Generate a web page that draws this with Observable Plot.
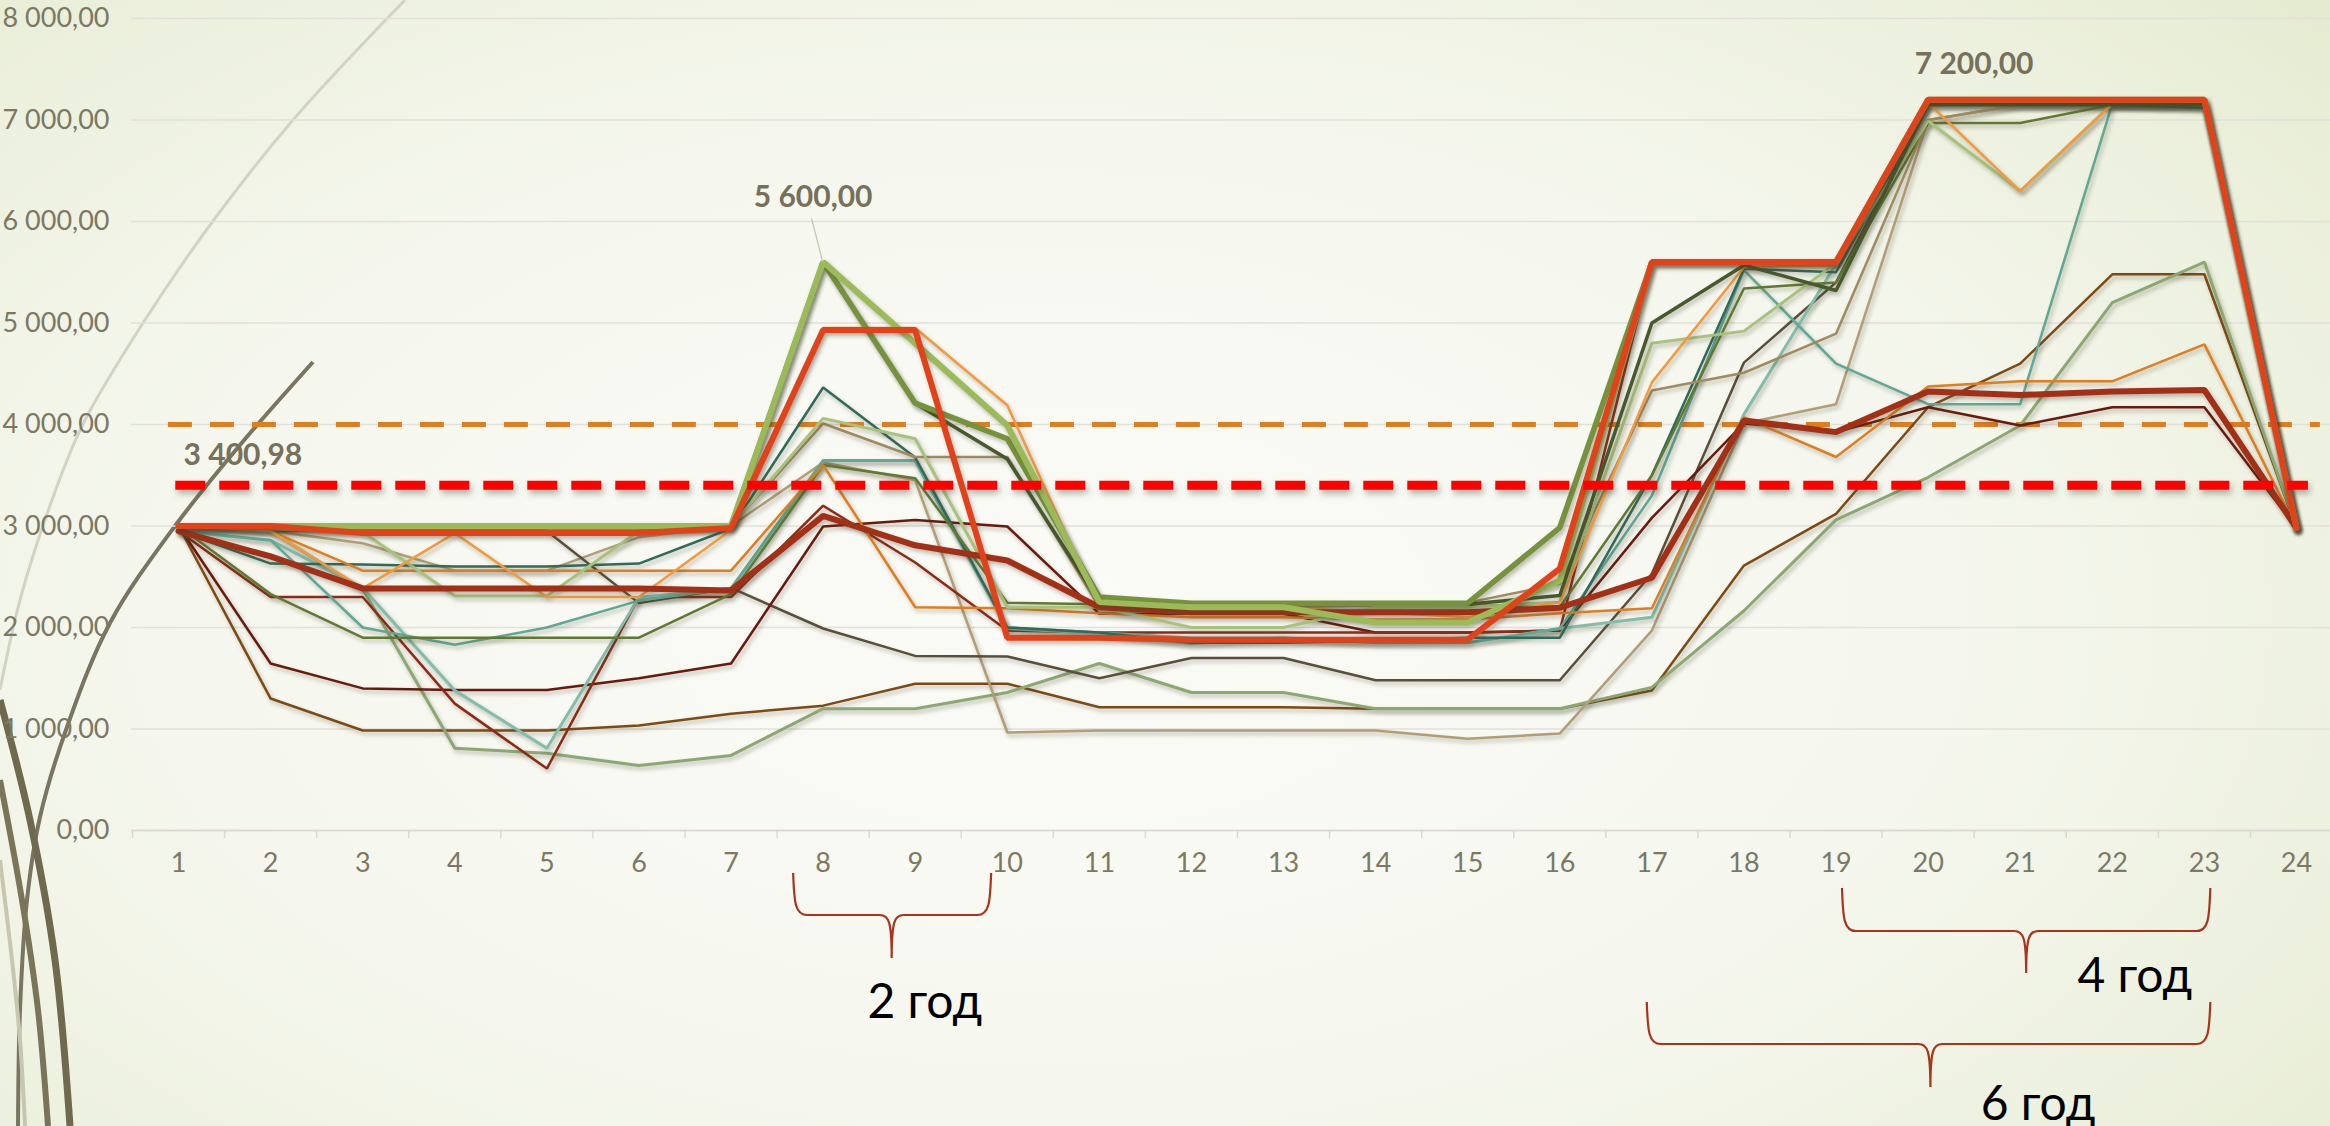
<!DOCTYPE html>
<html><head><meta charset="utf-8">
<script src="https://cdn.jsdelivr.net/npm/d3@7"></script>
<script src="https://cdn.jsdelivr.net/npm/@observablehq/plot@0.6"></script>
<style>
html,body{margin:0;padding:0;}
body{width:2330px;height:1126px;overflow:hidden;position:relative;
 background: radial-gradient(ellipse 78% 90% at 45% 55%, #fbfbf7 0%, #f5f7ee 50%, #e9eed8 85%, #e1e8c8 100%);
 font-family: Lato, sans-serif;}
#decor{position:absolute;left:0;top:0;}
#chart{position:absolute;left:0;top:0;}
.series path{filter: drop-shadow(2px 3px 2px rgba(70,70,50,0.35));}
.redref line, .redref path{filter: drop-shadow(2px 4px 3px rgba(70,70,50,0.4));}
</style></head><body>
<svg id="decor" width="2330" height="1126"></svg>
<div id="chart"></div>
<script>
// ---------- DATA ----------
const categories = [1,2,3,4,5,6,7,8,9,10,11,12,13,14,15,16,17,18,19,20,21,22,23,24];
const yTicks = [0,1000,2000,3000,4000,5000,6000,7000,8000];

const brown      = [3000,1300,985,985,985,1035,1150,1230,1445,1445,1215,1215,1215,1200,1200,1200,1380,2610,3120,4170,4600,5480,5480,2980];
const sage       = [3000,2950,2380,810,760,640,740,1200,1200,1360,1645,1360,1360,1200,1200,1200,1410,2165,3060,3480,3990,5200,5600,2980];
const tan        = [3000,2950,2830,2560,2560,2890,3000,3625,3450,965,985,985,985,985,905,955,1970,4010,4200,7000,7150,7150,7150,2980];
const brownGrey  = [3000,2950,2950,2950,2950,2240,2390,1990,1720,1715,1500,1700,1700,1480,1480,1480,2530,4610,5400,7150,7150,7150,7150,2980];
const redBrown   = [3000,1645,1400,1385,1385,1500,1645,2995,3060,2995,2135,2135,2135,1950,1950,1970,3080,4010,3925,4170,3990,4170,4170,2980];
const darkRed    = [2950,2300,2300,1250,610,2300,2300,3200,2640,1970,1950,1950,1950,1950,1950,1970,5600,5600,5600,7200,7200,7200,7200,2980];
const lightTeal  = [2950,2860,2390,1380,810,2296,2385,3645,3645,1990,1940,1840,1900,1850,1850,1990,2100,4100,5580,7150,7150,7150,7120,2980];
const teal       = [2950,2860,2000,1830,2000,2265,2385,3645,3645,2000,1950,1900,1900,1850,1850,1990,3300,5520,4600,4200,4200,7160,7150,2980];
const darkTeal   = [2950,2630,2620,2600,2600,2630,2975,4365,3675,2000,1950,1850,1850,1870,1900,1900,3500,5535,5500,7150,7150,7150,7120,2980];
const oliveDark  = [3000,2330,1900,1900,1900,1900,2330,3600,3470,2245,2230,2220,2220,2220,2220,2200,3500,5340,5400,6970,6970,7150,7150,2980];
const tanDark    = [3000,3000,3000,3000,3000,3000,3000,4010,3680,3680,2200,2200,2200,2220,2245,2430,4335,4510,4895,7000,7150,7150,7150,2980];
const orange     = [3000,2950,2560,2560,2560,2560,2560,3600,2200,2190,2140,2100,2100,2080,2080,2140,2190,4070,3680,4375,4425,4425,4790,2980];
const paleGreen  = [3000,2970,2940,2310,2310,2950,3000,4060,3860,2200,2200,2000,2000,2200,2200,2250,4800,4920,5590,6990,6300,7160,7150,2980];
const lightOrange= [3000,2950,2385,2930,2300,2300,2960,4950,4950,4190,2200,2200,2200,2150,2100,2250,4415,5550,5570,7170,6300,7160,7150,2980];
const redThick   = [2950,2700,2385,2385,2385,2385,2365,3100,2810,2660,2200,2150,2150,2150,2150,2195,2490,4040,3925,4325,4290,4325,4340,2980];
const darkGreen  = [3000,3000,3000,3000,3000,3000,3000,5600,4210,3660,2250,2230,2230,2230,2230,2315,5000,5570,5320,7150,7150,7150,7150,2980];
const olive      = [3000,3000,3000,3000,3000,3000,3000,5600,4210,3860,2300,2240,2240,2240,2240,2985,5600,5600,5600,7200,7200,7200,7200,2980];
const lightGreen = [3000,3000,3000,3000,3000,3000,3000,5600,4800,3990,2250,2200,2200,2050,2050,2460,5600,5600,5600,7200,7200,7200,7200,2980];
const redOrange  = [3000,3000,2930,2930,2930,2930,2980,4930,4930,1900,1900,1880,1880,1880,1880,2580,5600,5600,5600,7200,7200,7200,7200,2980];

const averageValue = 3400.98;
const limitValue = 4000;
const peakCategories = [8, 20];

const brackets = [
  {label: "2 год", from: 8, to: 10},
  {label: "4 год", from: 19, to: 23},
  {label: "6 год", from: 17, to: 23}
];

// ---------- STYLE ----------
const seriesList = [
  {v: brown, c: "#7f4a10", w: 2.5},
  {v: sage, c: "#8aa870", w: 3},
  {v: tan, c: "#b39d74", w: 2.5},
  {v: brownGrey, c: "#5b4e36", w: 2.5},
  {v: redBrown, c: "#6a1a0c", w: 2.5},
  {v: darkRed, c: "#8e2a14", w: 2.5},
  {v: lightTeal, c: "#82bcab", w: 3},
  {v: teal, c: "#5fa896", w: 2.5},
  {v: darkTeal, c: "#2f6b5a", w: 2.5},
  {v: oliveDark, c: "#5f7a30", w: 2.5},
  {v: tanDark, c: "#a08a5e", w: 2.5},
  {v: orange, c: "#e27d1c", w: 2.5},
  {v: paleGreen, c: "#a9c27a", w: 3},
  {v: lightOrange, c: "#f39a3c", w: 2.5},
  {v: redThick, c: "#a33016", w: 6},
  {v: darkGreen, c: "#46592a", w: 3.5},
  {v: olive, c: "#76923c", w: 5.5},
  {v: lightGreen, c: "#9bbb59", w: 6},
  {v: redOrange, c: "#e2421a", w: 6}
];
// bracket layout (pixel offsets below the axis; start/end/tip/label shifts in category units)
const bracketLayout = [
  {dl: -0.32, dr: -0.17, tip: 0.75, lab: 1.11, top: 43, mid: 85, bot: 128, base: 188},
  {dl: 0.07, dr: 0.07, tip: 2.07, lab: 3.25, top: 58, mid: 101, bot: 143, base: 162},
  {dl: -0.05, dr: 0.07, tip: 3.03, lab: 4.2, top: 172, mid: 214, bot: 257, base: 290}
];

// decorative theme arcs (background, not data)
const decor = d3.select("#decor");
const arc = d3.line().curve(d3.curveCatmullRom);
decor.append("path").attr("d", arc([[405,0],[293,120],[213,221],[143,323],[83,424],[52,500],[20,600],[0,690]]))
  .attr("fill", "none").attr("stroke", "#d3d3c3").attr("stroke-width", 3);
decor.append("path").attr("d", arc([[313,362],[240,445],[175,526],[110,623],[67,727],[40,817],[27,900],[20,1010],[18,1126]]))
  .attr("fill", "none").attr("stroke", "#7a7560").attr("stroke-width", 4);
decor.append("path").attr("d", arc([[0,700],[30,820],[55,960],[70,1126]])).attr("fill", "none").attr("stroke", "#6f6a4e").attr("stroke-width", 7);
decor.append("path").attr("d", arc([[0,780],[22,900],[38,1010],[48,1126]])).attr("fill", "none").attr("stroke", "#7a7558").attr("stroke-width", 6);
decor.append("path").attr("d", arc([[0,860],[12,960],[20,1040],[25,1126]])).attr("fill", "none").attr("stroke", "#c9c6b0").attr("stroke-width", 4);

const fmt = d3.formatLocale({decimal: ",", thousands: " ", grouping: [3]}).format(",.2f");
const boundaries = categories.map(c => c - 0.5).concat([categories[categories.length - 1] + 0.5]);
const first = categories[0], last = categories[categories.length - 1];

const lineMarks = seriesList.map(s =>
  Plot.line(categories.map((c, i) => ({cat: c, value: s.v[i]})),
    {x: "cat", y: "value", stroke: s.c, strokeWidth: s.w, strokeLinejoin: "miter", className: "series"}));

const peaks = peakCategories.map(c => ({cat: c, value: d3.max(seriesList, s => s.v[c - 1])}));

function bracketsMark(index, scales, values, dims) {
  const g = d3.create("svg:g");
  const y0 = scales.y(0);
  brackets.forEach((b, i) => {
    const L = bracketLayout[i];
    const xl = scales.x(b.from + L.dl), xr = scales.x(b.to + L.dr), xm = scales.x(b.from + L.tip);
    const yt = y0 + L.top, ym = y0 + L.mid, yb = y0 + L.bot;
    const p = `M${xl},${yt} C${xl+1},${ym-12} ${xl+2},${ym} ${xl+14},${ym} L${xm-12},${ym} C${xm-3},${ym} ${xm},${ym+6} ${xm},${yb}` +
              ` M${xr},${yt} C${xr-1},${ym-12} ${xr-2},${ym} ${xr-14},${ym} L${xm+12},${ym} C${xm+3},${ym} ${xm},${ym+6} ${xm},${yb}`;
    g.append("path").attr("d", p).attr("fill", "none").attr("stroke", "#a8351a").attr("stroke-width", 2.2);
    g.append("text").attr("x", scales.x(b.from + L.lab)).attr("y", y0 + L.base)
      .attr("text-anchor", "middle").attr("font-size", 48).attr("font-family", "Lato, sans-serif")
      .attr("fill", "#000").text(b.label);
  });
  return g.node();
}

function leaderMark(index, scales) {
  const p = peaks[0];
  const x = scales.x(p.cat), y = scales.y(p.value);
  const g = d3.create("svg:g");
  g.append("path").attr("d", `M${x},${y} L${x - 11},${y - 43}`).attr("stroke", "#c9c5b2").attr("stroke-width", 1.3).attr("fill", "none");
  return g.node();
}

const chart = Plot.plot({
  width: 2330, height: 1126,
  marginLeft: 131, marginRight: 0, marginTop: 18, marginBottom: 296,
  style: {background: "transparent", fontFamily: "Lato, sans-serif", overflow: "visible"},
  x: {type: "linear", domain: [first - 0.5, last + 0.5], range: [132, 2342]},
  y: {domain: [0, 8000]},
  marks: [
    Plot.gridY(yTicks, {stroke: "#e3dfd9", strokeOpacity: 1, strokeWidth: 1.5}),
    Plot.ruleY([0], {stroke: "#dcd8d0", strokeWidth: 1.5}),
    Plot.axisY(yTicks, {tickSize: 0, tickPadding: 22, tickFormat: fmt, fontSize: 27, fill: "#7d7862", label: null}),
    Plot.axisX(boundaries, {tickSize: 8, stroke: "#dcd8d0", strokeWidth: 1.5, tickFormat: () => "", label: null}),
    Plot.axisX(categories, {tickSize: 0, tickPadding: 22, tickFormat: d => String(d), fontSize: 27, fill: "#7d7862", label: null}),
    Plot.ruleY([limitValue], {x1: first - 0.11, x2: last + 0.26, stroke: "#e07d1e", strokeWidth: 5, strokeDasharray: "24,18"}),
    ...lineMarks,
    Plot.ruleY([averageValue], {x1: first - 0.03, x2: last + 0.13, stroke: "#ff0000", strokeWidth: 9, strokeDasharray: "30,14", className: "redref"}),
    Plot.text([{cat: first, value: averageValue}], {x: "cat", y: "value", text: d => fmt(d.value), textAnchor: "start", dx: 5, dy: -30, fontSize: 30, fontWeight: "bold", fill: "#77705a"}),
    leaderMark,
    Plot.text([peaks[0]], {x: "cat", y: "value", text: d => fmt(d.value), dx: -10, dy: -65, fontSize: 30, fontWeight: "bold", fill: "#77705a"}),
    Plot.text([peaks[1]], {x: "cat", y: "value", text: d => fmt(d.value), dx: 46, dy: -35, fontSize: 30, fontWeight: "bold", fill: "#77705a"}),
    bracketsMark
  ]
});
document.getElementById("chart").appendChild(chart);
</script>
</body></html>
